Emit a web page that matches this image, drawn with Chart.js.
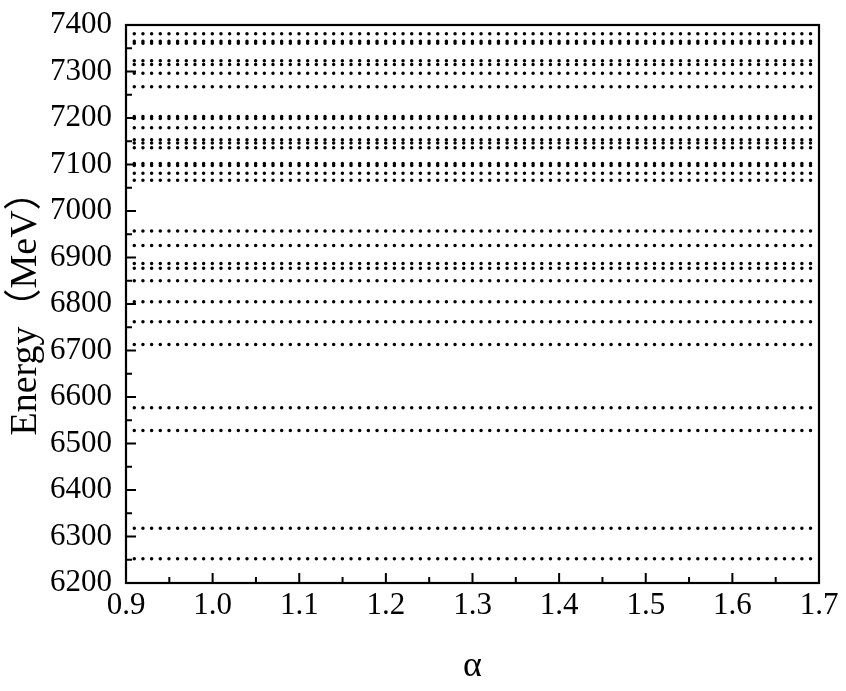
<!DOCTYPE html>
<html>
<head>
<meta charset="utf-8">
<script src="https://cdn.jsdelivr.net/npm/chart.js@4/dist/chart.umd.min.js"></script>
<style>
  html, body { margin: 0; padding: 0; background: #fff; }
  #wrap { width: 846px; height: 691px; position: relative; }
</style>
</head>
<body>
<div id="wrap"><canvas id="c" width="846" height="691"></canvas></div>
<script>
// ---- data ----
const alphaRange = [0.9, 1.7];
const energyLevels = [
  7381, 7365, 7361, 7323, 7315, 7296, 7267,
  7203, 7199, 7179, 7153, 7146, 7136, 7102, 7098, 7081, 7066,
  6957, 6926, 6887, 6877, 6850, 6805, 6762, 6713,
  6577, 6528, 6318, 6252
];
const xTickValues = [0.9, 1.0, 1.1, 1.2, 1.3, 1.4, 1.5, 1.6, 1.7];
const xTickLabels = ['0.9', '1.0', '1.1', '1.2', '1.3', '1.4', '1.5', '1.6', '1.7'];
const yTickValues = [6200, 6300, 6400, 6500, 6600, 6700, 6800, 6900, 7000, 7100, 7200, 7300, 7400];
const yTickLabels = ['6200', '6300', '6400', '6500', '6600', '6700', '6800', '6900', '7000', '7100', '7200', '7300', '7400'];
const xTitle = 'α';
const yTitle = 'Energy（MeV）';

// ---- chart ----
const SERIF = '"Liberation Serif", "Times New Roman", "Noto Sans CJK SC", serif';
Chart.defaults.color = '#000';

const datasets = energyLevels.map(e => ({
  data: [{x: alphaRange[0], y: e}, {x: alphaRange[1], y: e}],
  showLine: true,
  borderColor: '#000',
  borderWidth: 3.5,
  borderDash: [0, 8.67],
  borderDashOffset: 0.4,
  borderCapStyle: 'round',
  pointRadius: 0,
  fill: false
}));

const frameAndTicks = {
  id: 'frameAndTicks',
  afterDraw(chart) {
    const {ctx, chartArea: a, scales: {x, y}} = chart;
    ctx.save();
    ctx.strokeStyle = '#000';
    ctx.lineWidth = 2;
    ctx.beginPath();
    x.ticks.forEach((t, i) => {
      const px = x.getPixelForValue(t.value);
      ctx.moveTo(px, a.bottom); ctx.lineTo(px, a.bottom - 10);
      if (i < x.ticks.length - 1) {
        const mx = x.getPixelForValue((t.value + x.ticks[i + 1].value) / 2);
        ctx.moveTo(mx, a.bottom); ctx.lineTo(mx, a.bottom - 6);
      }
    });
    y.ticks.forEach((t, i) => {
      const py = y.getPixelForValue(t.value);
      ctx.moveTo(a.left, py); ctx.lineTo(a.left + 10, py);
      if (i < y.ticks.length - 1) {
        const my = y.getPixelForValue((t.value + y.ticks[i + 1].value) / 2);
        ctx.moveTo(a.left, my); ctx.lineTo(a.left + 6, my);
      }
    });
    ctx.stroke();
    ctx.lineWidth = 2.2;
    ctx.strokeRect(a.left, a.top, a.right - a.left, a.bottom - a.top);
    ctx.restore();
  }
};

new Chart(document.getElementById('c'), {
  type: 'scatter',
  data: { datasets },
  options: {
    responsive: false,
    animation: false,
    events: [],
    layout: { padding: { left: 0, right: 27, top: 25, bottom: 0 } },
    plugins: { legend: { display: false }, tooltip: { enabled: false } },
    scales: {
      x: {
        type: 'linear',
        min: alphaRange[0],
        max: alphaRange[1],
        afterBuildTicks: s => { s.ticks = xTickValues.map(v => ({value: v})); },
        afterFit: s => { s.height = 108; s.paddingLeft = 0; s.paddingRight = 0; },
        grid: { display: false, drawTicks: false },
        border: { display: false },
        ticks: {
          padding: 4,
          font: { family: SERIF, size: 31 },
          color: '#000',
          maxRotation: 0,
          autoSkip: false,
          callback: (v, i) => xTickLabels[i]
        },
        title: {
          display: true,
          text: xTitle,
          font: { family: SERIF, size: 36 },
          color: '#000',
          padding: { top: 0, bottom: 3 }
        }
      },
      y: {
        type: 'linear',
        min: yTickValues[0],
        max: yTickValues[yTickValues.length - 1],
        afterBuildTicks: s => { s.ticks = yTickValues.map(v => ({value: v})); },
        afterFit: s => { s.width = 126; s.paddingTop = 0; s.paddingBottom = 0; },
        grid: { display: false, drawTicks: false },
        border: { display: false },
        ticks: {
          padding: 14,
          font: { family: SERIF, size: 31 },
          color: '#000',
          autoSkip: false,
          callback: (v, i) => yTickLabels[i]
        },
        title: {
          display: true,
          text: yTitle,
          font: { family: SERIF, size: 38 },
          color: '#000',
          padding: { top: 3, bottom: 0 }
        }
      }
    }
  },
  plugins: [frameAndTicks]
});
</script>
</body>
</html>
